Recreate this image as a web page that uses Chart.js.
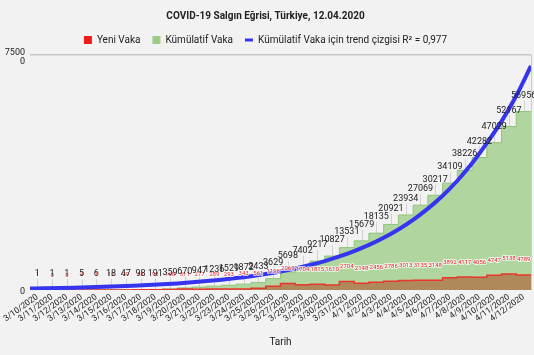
<!DOCTYPE html>
<html>
<head>
<meta charset="utf-8">
<script src="https://cdn.jsdelivr.net/npm/chart.js@4.4.1/dist/chart.umd.min.js"></script>
<style>
  html, body { margin: 0; padding: 0; background: #f2f2f2; }
  #wrap { width: 534px; height: 355px; }
</style>
</head>
<body>
<div id="wrap"><canvas id="c" width="534" height="355"></canvas></div>
<script>
// ---- data ----
const dates = ['3/10/2020','3/11/2020','3/12/2020','3/13/2020','3/14/2020','3/15/2020','3/16/2020','3/17/2020','3/18/2020','3/19/2020','3/20/2020','3/21/2020','3/22/2020','3/23/2020','3/24/2020','3/25/2020','3/26/2020','3/27/2020','3/28/2020','3/29/2020','3/30/2020','3/31/2020','4/1/2020','4/2/2020','4/3/2020','4/4/2020','4/5/2020','4/6/2020','4/7/2020','4/8/2020','4/9/2020','4/10/2020','4/11/2020','4/12/2020'];
const newCases = [1,0,0,4,1,12,29,51,93,168,311,277,289,293,343,561,1196,2069,1704,1815,1610,2704,2148,2456,2786,3013,3135,3148,3892,4117,4056,4747,5138,4789];
const cumulative = [1,1,1,5,6,18,47,98,191,359,670,947,1236,1529,1872,2433,3629,5698,7402,9217,10827,13531,15679,18135,20921,23934,27069,30217,34109,38226,42282,47029,52167,56956];
// trend curve read at the band edges (before first date ... after last date)
const trendAtEdges = [482,559,648,750,870,1009,1169,1355,1571,1821,2110,2445,2835,3286,3808,4414,5116,5930,6873,7967,9234,10704,12407,14380,16668,19320,22393,25956,30086,34872,40420,46850,53800,62000,71500];
const yTicks = [0, 75000];
const titleText = 'COVID-19 Salgın Eğrisi, Türkiye, 12.04.2020';
const seriesNames = ['Yeni Vaka', 'Kümülatif Vaka', 'Kümülatif Vaka için trend çizgisi R² = 0,977'];

const FONT = 'Roboto';
const COL = {
  red: '#e8372c', redLegend: '#f01c1c', brown: '#b0895b',
  green: '#b0d59e', greenLine: '#8fc47a', greenLegend: '#9ccc86',
  blue: '#3535ef', text: '#222222'
};

function stepPoints(arr) {
  const pts = arr.map((v, i) => ({ x: i - 0.5, y: v }));
  pts.push({ x: arr.length - 0.5, y: arr[arr.length - 1] });
  return pts;
}

const bgPlugin = {
  id: 'bg',
  beforeDraw(chart) {
    const ctx = chart.ctx;
    ctx.save();
    ctx.fillStyle = '#f2f2f2';
    ctx.fillRect(0, 0, chart.width, chart.height);
    ctx.restore();
  },
  beforeDatasetsDraw(chart) {
    const ctx = chart.ctx, a = chart.chartArea;
    ctx.save();
    ctx.strokeStyle = '#cccccc';
    ctx.lineWidth = 1;
    ctx.beginPath();
    ctx.moveTo(Math.round(a.right) + 0.5, a.top);
    ctx.lineTo(Math.round(a.right) + 0.5, a.bottom);
    ctx.stroke();
    // annotation stems
    const xs = chart.scales.x2, ys = chart.scales.y;
    ctx.strokeStyle = 'rgba(150,150,150,0.35)';
    cumulative.forEach((v, i) => {
      const x = Math.round(xs.getPixelForValue(i)) + 0.5;
      const y = ys.getPixelForValue(v);
      ctx.beginPath();
      ctx.moveTo(x, y - 11);
      ctx.lineTo(x, y);
      ctx.stroke();
    });
    ctx.restore();
  }
};

const annotPlugin = {
  id: 'annot',
  afterDatasetsDraw(chart) {
    const ctx = chart.ctx;
    const xs = chart.scales.x2, ys = chart.scales.y;
    ctx.save();
    ctx.textAlign = 'center';
    ctx.textBaseline = 'middle';
    // red labels (new cases)
    ctx.font = '6px ' + FONT;
    ctx.lineJoin = 'round';
    newCases.forEach((v, i) => {
      const x = xs.getPixelForValue(i);
      const y = ys.getPixelForValue(v) - 15;
      ctx.lineWidth = 2;
      ctx.strokeStyle = 'rgba(255,255,255,0.75)';
      ctx.strokeText(String(v), x, y);
      ctx.fillStyle = '#e3262c';
      ctx.fillText(String(v), x, y);
    });
    // cumulative labels
    ctx.font = '9px ' + FONT;
    cumulative.forEach((v, i) => {
      const x = xs.getPixelForValue(i);
      const y = ys.getPixelForValue(v) - 16;
      ctx.fillStyle = COL.text;
      ctx.fillText(String(v), x, y);
    });
    ctx.restore();
  }
};

new Chart(document.getElementById('c'), {
  type: 'line',
  data: {
    labels: dates,
    datasets: [
      {
        label: seriesNames[0], xAxisID: 'x2', data: stepPoints(newCases),
        stepped: true, fill: 'origin', backgroundColor: COL.brown,
        borderColor: COL.red, borderWidth: 1.5, pointRadius: 0, order: 1
      },
      {
        label: seriesNames[1], xAxisID: 'x2', data: stepPoints(cumulative),
        stepped: true, fill: 'origin', backgroundColor: COL.green,
        borderColor: COL.greenLine, borderWidth: 1, pointRadius: 0, order: 2
      },
      {
        label: seriesNames[2], xAxisID: 'x2',
        data: trendAtEdges.map((v, k) => ({ x: k - 0.5, y: v })),
        borderColor: COL.blue, borderWidth: 4, pointRadius: 0, fill: false,
        cubicInterpolationMode: 'monotone', order: 0
      }
    ]
  },
  options: {
    responsive: false,
    devicePixelRatio: 1,
    animation: false,
    layout: { padding: { left: 0, right: 3, top: 0, bottom: 0 } },
    plugins: {
      tooltip: { enabled: false },
      title: {
        display: true, text: titleText, color: COL.text,
        font: { family: FONT, size: 10, weight: 'bold' },
        padding: { top: 10, bottom: 1 }
      },
      legend: {
        display: true, position: 'top', align: 'center',
        labels: {
          usePointStyle: true, pointStyleWidth: 8, boxWidth: 8, boxHeight: 8,
          padding: 12, color: COL.text, font: { family: FONT, size: 10 },
          generateLabels() {
            return [
              { text: seriesNames[0], fillStyle: COL.redLegend, strokeStyle: COL.redLegend, lineWidth: 0, pointStyle: 'rect', hidden: false, datasetIndex: 0, fontColor: COL.text },
              { text: seriesNames[1], fillStyle: COL.greenLegend, strokeStyle: COL.greenLegend, lineWidth: 0, pointStyle: 'rect', hidden: false, datasetIndex: 1, fontColor: COL.text },
              { text: seriesNames[2], fillStyle: COL.blue, strokeStyle: COL.blue, lineWidth: 3, pointStyle: 'line', hidden: false, datasetIndex: 2, fontColor: COL.text }
            ];
          }
        }
      }
    },
    scales: {
      x: {
        type: 'category', offset: true,
        grid: { display: false, drawTicks: false },
        border: { display: false },
        ticks: {
          autoSkip: false, minRotation: 36, maxRotation: 36, padding: 2,
          color: COL.text, font: { family: FONT, size: 8.5 }
        },
        title: {
          display: true, text: 'Tarih', color: COL.text,
          font: { family: FONT, size: 10 }, padding: { top: 0, bottom: 7 }
        },
        afterFit(s) { s.height = 65; s.paddingLeft = 0; s.paddingRight = 0; }
      },
      x2: {
        type: 'linear', display: false,
        min: -0.5, max: dates.length - 0.5
      },
      y: {
        min: yTicks[0], max: yTicks[yTicks.length - 1],
        afterBuildTicks(s) { s.ticks = yTicks.map(v => ({ value: v })); },
        border: { display: false },
        grid: {
          drawTicks: false,
          color: ctx => (ctx.tick && ctx.tick.value === yTicks[yTicks.length - 1]) ? '#c8c8c8' : 'rgba(0,0,0,0)',
          lineWidth: 1.5
        },
        ticks: {
          padding: 5, labelOffset: 2, color: COL.text, font: { family: FONT, size: 9, lineHeight: 1.0 },
          callback(v) { const s = String(v); return s.length > 4 ? [s.slice(0, 4), s.slice(4)] : s; }
        },
        afterFit(s) { s.width = 30; s.paddingTop = 0; s.paddingBottom = 0; }
      }
    }
  },
  plugins: [bgPlugin, annotPlugin]
});
</script>
</body>
</html>
